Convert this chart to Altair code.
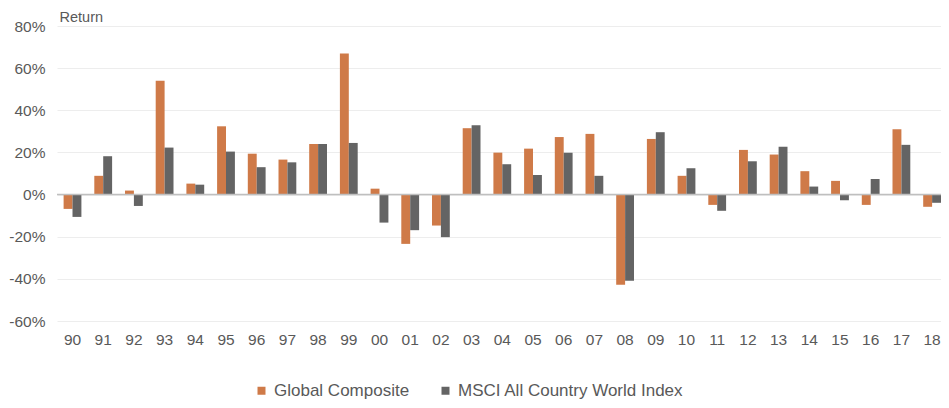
import altair as alt
import pandas as pd

years = ["90", "91", "92", "93", "94", "95", "96", "97", "98", "99",
         "00", "01", "02", "03", "04", "05", "06", "07", "08", "09",
         "10", "11", "12", "13", "14", "15", "16", "17", "18"]
global_composite = [-6.8, 8.9, 1.9, 54.0, 5.2, 32.4, 19.4, 16.6, 24.0, 67.0,
                    2.8, -23.4, -14.7, 31.5, 19.9, 21.8, 27.3, 28.8, -42.8, 26.4,
                    8.9, -4.9, 21.2, 19.0, 11.1, 6.5, -4.9, 31.0, -5.8]
msci_acwi = [-10.6, 18.2, -5.4, 22.3, 4.7, 20.4, 13.0, 15.3, 24.0, 24.5,
             -13.3, -16.9, -20.2, 32.9, 14.4, 9.3, 19.9, 8.9, -40.9, 29.6,
             12.5, -7.7, 15.8, 22.7, 3.8, -2.7, 7.4, 23.6, -3.9]
series_names = ["Global Composite", "MSCI All Country World Index"]
series_colors = ["#CF7A48", "#646464"]
y_ticks = [-60, -40, -20, 0, 20, 40, 60, 80]

rows = []
for i, yr in enumerate(years):
    rows.append({"year": yr, "series": series_names[0], "ret": global_composite[i]})
    rows.append({"year": yr, "series": series_names[1], "ret": msci_acwi[i]})
df = pd.DataFrame(rows)

FONT = "Liberation Sans"
TXT = "#595959"

bars = alt.Chart(df).mark_bar().encode(
    x=alt.X("year:N", sort=years,
            scale=alt.Scale(paddingInner=0.42, paddingOuter=0.1075, align=1),
            axis=alt.Axis(title=None, labelAngle=0, domain=False, ticks=False, tickSize=0,
                          labelPadding=11, labelFontSize=15.5, labelColor=TXT, labelFont=FONT,
                          grid=False)),
    xOffset=alt.XOffset("series:N", sort=series_names, scale=alt.Scale(paddingInner=0, paddingOuter=0)),
    y=alt.Y("ret:Q", scale=alt.Scale(domain=[-60, 80], nice=False, zero=False),
            axis=alt.Axis(values=y_ticks, labelExpr="datum.value + '%'",
                          title="Return", titleAngle=0, titleAlign="left", titleBaseline="middle",
                          titleX=2, titleY=-9, titleFont=FONT, titleFontSize=14.5,
                          titleFontWeight="normal", titleColor=TXT,
                          domain=False, ticks=False, tickSize=0, labelPadding=12,
                          labelFontSize=15.5, labelColor=TXT, labelFont=FONT,
                          grid=True, gridColor="#EDEDED", gridWidth=1)),
    color=alt.Color("series:N", sort=series_names,
                    scale=alt.Scale(domain=series_names, range=series_colors),
                    legend=alt.Legend(title=None, orient="none", legendX=196, legendY=356,
                                      direction="horizontal", symbolType="M-1,-1H1V1H-1Z",
                                      symbolSize=64, symbolStrokeWidth=0,
                                      labelFont=FONT, labelFontSize=17, labelColor=TXT,
                                      labelLimit=0, labelOffset=4, columnPadding=27, padding=0)),
)

zero = alt.Chart(pd.DataFrame({"v": [0]})).mark_rule(color="#BFBFBF", strokeWidth=1.5).encode(y="v:Q")

chart = alt.layer(bars, zero).properties(
    width=884, height=295,
    padding={"left": 49, "top": 18, "right": 0, "bottom": 79},
    autosize=alt.AutoSizeParams(type="none"),
    background="white",
).configure_view(stroke=None)

chart.save("out.html", embed_options={"renderer": "svg", "actions": False})
